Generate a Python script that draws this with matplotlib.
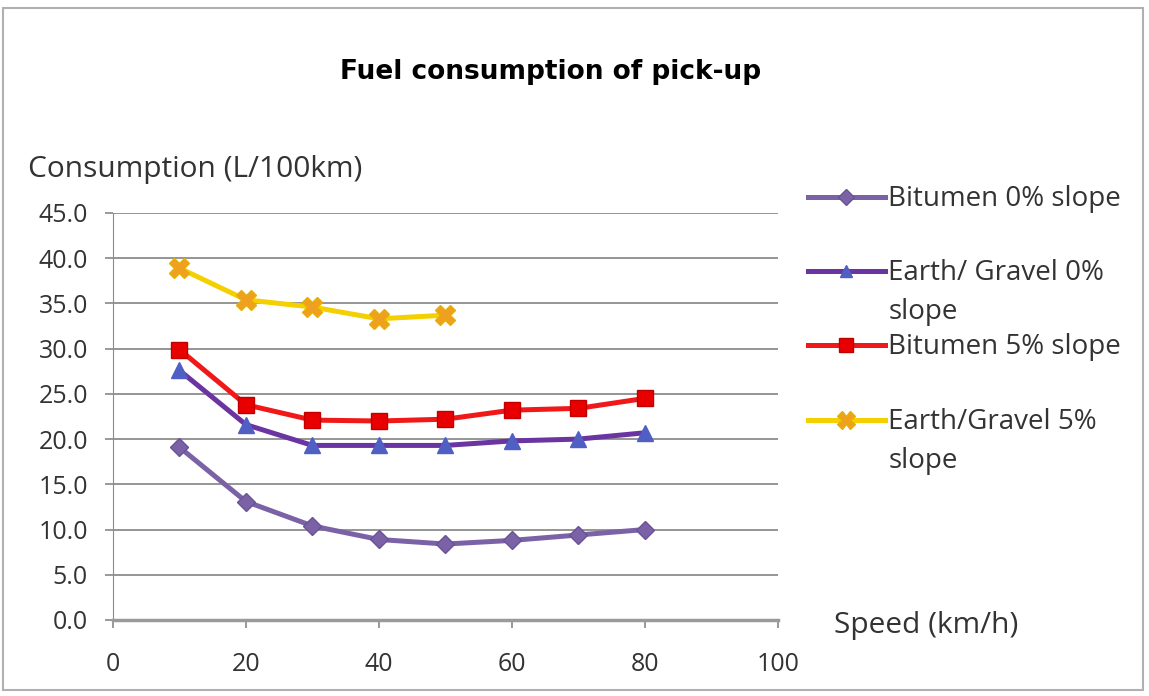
import matplotlib

matplotlib.use("Agg")
import matplotlib.pyplot as plt
from matplotlib.lines import Line2D
from matplotlib.patches import Rectangle

plt.rcParams["font.family"] = ["Open Sans", "DejaVu Sans"]

# speeds (km/h) and consumption (L/100km)
speed = [10, 20, 30, 40, 50, 60, 70, 80]
speed_short = [10, 20, 30, 40, 50]

bitumen_0 = [19.1, 13.1, 10.4, 8.9, 8.4, 8.8, 9.4, 10.0]
gravel_0 = [27.6, 21.6, 19.3, 19.3, 19.3, 19.8, 20.0, 20.7]
bitumen_5 = [29.9, 23.8, 22.1, 22.0, 22.2, 23.2, 23.4, 24.5]
gravel_5 = [38.9, 35.4, 34.6, 33.3, 33.7]

labels = ["Bitumen 0% slope", "Earth/ Gravel 0%\nslope",
          "Bitumen 5% slope", "Earth/Gravel 5%\nslope"]

styles = [
    dict(color="#7B62A6", marker="D", ms=9, mfc="#7B62A6", mec="#6A5296"),
    dict(color="#6A35A0", marker="^", ms=11, mfc="#4F5FC4", mec="#4F5FC4"),
    dict(color="#F01818", marker="s", ms=12, mfc="#E80000", mec="#C00000"),
    dict(color="#F5D000", marker="X", ms=15, mfc="#F0A020", mec="#E8B000"),
]

fig = plt.figure(figsize=(11.49, 6.96), dpi=100)
ax = fig.add_axes([0.0983, 0.1092, 0.5787, 0.5848])

series = [(speed, bitumen_0), (speed, gravel_0), (speed, bitumen_5), (speed_short, gravel_5)]
for (xs, ys), st in zip(series, styles):
    ax.plot(xs, ys, lw=3.6, zorder=3, **st)

ax.set_xlim(0, 100)
ax.set_ylim(0, 45)
ax.set_xticks(range(0, 101, 20))
ax.set_yticks([i * 5 for i in range(10)])
ax.set_yticklabels([f"{i * 5:.1f}" for i in range(10)])
ax.tick_params(axis="both", labelsize=18, colors="#888888", labelcolor="#333333",
               length=6, width=1.2, direction="out")
ax.tick_params(axis="x", pad=17)
ax.tick_params(axis="y", pad=12)
ax.grid(axis="y", color="#8c8c8c", lw=1.3)
ax.set_axisbelow(True)
for s in ["top", "right"]:
    ax.spines[s].set_visible(False)
ax.spines["left"].set_color("#8c8c8c")
ax.spines["bottom"].set_color("#9a9a9a")
ax.spines["bottom"].set_linewidth(2.5)

fig.text(0.479, 0.897, "Fuel consumption of pick-up", ha="center", va="center",
         fontsize=19, fontweight="bold", family="DejaVu Sans")
fig.text(0.024, 0.757, "Consumption (L/100km)", ha="left", va="center",
         fontsize=21.5, color="#333333")
fig.text(0.726, 0.101, "Speed (km/h)", ha="left", va="center",
         fontsize=21.5, color="#333333")

# legend drawn by hand so wrapped labels sit like the original
leg_y = [0.717, 0.611, 0.504, 0.397]
for st, lab, y in zip(styles, labels, leg_y):
    fig.add_artist(Line2D([0.703, 0.770], [y, y], lw=3.6, transform=fig.transFigure, color=st["color"]))
    fig.add_artist(Line2D([0.7365], [y], transform=fig.transFigure, marker=st["marker"],
                          ms=st["ms"] * 0.85, mfc=st["mfc"], mec=st["mec"], lw=0))
    fig.text(0.773, y + 0.017, lab, ha="left", va="top", fontsize=20, color="#333333",
             linespacing=1.55, transform=fig.transFigure)

# chart border
fig.add_artist(Rectangle((0.003, 0.008), 0.992, 0.98, transform=fig.transFigure,
                         fill=False, ec="#b0b0b0", lw=1.5))

fig.savefig("out.png", dpi=100)
